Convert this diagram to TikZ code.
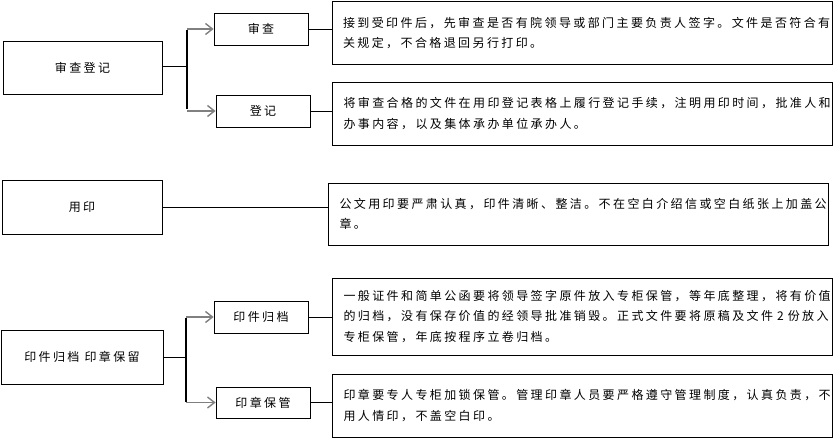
\documentclass[tikz,border=0pt]{standalone}
\usepackage{fontspec}
\newfontfamily\cjk[LetterSpace=20]{Noto Sans CJK SC}
\usetikzlibrary{arrows.meta}

\begin{document}
\begin{tikzpicture}[x=1pt,y=-1pt,
		box/.style={draw,line width=0.8pt,inner sep=0pt,font={\cjk\fontsize{12}{14}\selectfont}},
		desc/.style={draw,line width=0.8pt,inner xsep=11pt,inner ysep=0pt,align=left,
			text width=478pt,minimum height=63pt,font={\cjk\fontsize{12}{20.5}\selectfont}}]
		\useasboundingbox (0,0) rectangle (833,438);

		\node[box,minimum width=159pt,minimum height=53pt] (A) at (82.5,67.5) {审查登记};
		\node[box,minimum width=94pt,minimum height=32pt] (B) at (261,29) {审查};
		\node[box,minimum width=94pt,minimum height=32pt] (C) at (263,111) {登记};
		\node[desc] (D) at (582,33) {接到受印件后，先审查是否有院领导或部门主要负责人签字。文件是否符合有\\关规定，不合格退回另行打印。};
		\node[desc] (E) at (582.5,113.5) {将审查合格的文件在用印登记表格上履行登记手续，注明用印时间，批准人和\\办事内容，以及集体承办单位承办人。};

		\node[box,minimum width=160pt,minimum height=54pt] (F) at (82,207) {用印};
		\node[desc,minimum height=62pt] (G) at (578.5,214) {公文用印要严肃认真，印件清晰、整洁。不在空白介绍信或空白纸张上加盖公\\章。};

		\node[box,minimum width=162pt,minimum height=54pt] (H) at (82,357) {印件归档 印章保留};
		\node[box,minimum width=94pt,minimum height=32pt] (I) at (261,317) {印件归档};
		\node[box,minimum width=94pt,minimum height=31pt] (J) at (263,402.5) {印章保管};
		\node[desc,minimum height=77pt] (K) at (582.5,316.5) {一般证件和简单公函要将领导签字原件放入专柜保管，等年底整理，将有价值\\的归档，没有保存价值的经领导批准销毁。正式文件要将原稿及文件~2~份放入\\专柜保管，年底按程序立卷归档。};
		\node[desc] (L) at (582.5,405.5) {印章要专人专柜加锁保管。管理印章人员要严格遵守管理制度，认真负责，不\\用人情印，不盖空白印。};

		\coordinate (P1) at (187,29);
		\coordinate (P2) at (187,111);
		\coordinate (Q1) at (186,317);
		\coordinate (Q2) at (186,402.5);
		%
		\draw[line width=2pt] ([yshift=-1pt]P1) -- ([yshift=2pt]P2);
		\draw[line width=2pt] ([yshift=-1pt]Q1) -- ([yshift=1pt]Q2);
		\path[line width=0.8pt]
		(A.east |- 0,66) edge (P1 |- 0,66)
		(H.east) edge (Q1 |- H.east)
		(B.east) edge (B.east -| D.west)
		(C.east) edge (C.east -| E.west)
		(F.east) edge (F.east -| G.west)
		(I.east) edge (I.east -| K.west)
		(J.east) edge (J.east -| L.west);
		\path[-{Straight Barb[length=7pt,width=11pt]},gray,line width=1.4pt]
		(P1) edge (B)
		(P2) edge (C)
		(Q1) edge (I)
		(Q2) edge (J);

	\end{tikzpicture}
\end{document}
